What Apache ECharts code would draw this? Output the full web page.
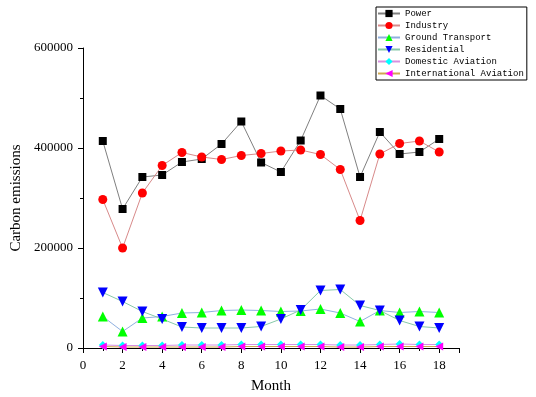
<!DOCTYPE html>
<html>
<head>
<meta charset="utf-8">
<script src="https://cdn.jsdelivr.net/npm/echarts@6/dist/echarts.min.js"></script>
<style>
  html, body { margin: 0; padding: 0; background: #fff; }
  #chart { width: 536px; height: 397px; }
</style>
</head>
<body>
<div id="chart"></div>
<script>
var months = [1, 2, 3, 4, 5, 6, 7, 8, 9, 10, 11, 12, 13, 14, 15, 16, 17, 18];
var seriesNames = ['Power', 'Industry', 'Ground Transport', 'Residential', 'Domestic Aviation', 'International Aviation'];
var power = [414000, 278000, 342000, 346000, 372000, 378000, 408000, 453000, 371000, 352000, 415000, 505000, 478000, 342000, 432000, 388000, 392000, 418000];
var industry = [297000, 200000, 310000, 365000, 391000, 382000, 377000, 385000, 389000, 394000, 396000, 387000, 357000, 255000, 388000, 409000, 414000, 392000];
var groundTransport = [63000, 33000, 60000, 63000, 70000, 71000, 75000, 76000, 75000, 73000, 74000, 78000, 70000, 53000, 75000, 71000, 73000, 71000];
var residential = [111000, 93000, 73000, 58000, 42000, 40000, 40000, 40000, 43000, 58000, 76000, 115000, 117000, 85000, 75000, 55000, 43000, 40000];
var domesticAviation = [6000, 5000, 5000, 5000, 6000, 6000, 6000, 7000, 7000, 7000, 7000, 7000, 6000, 6000, 7000, 8000, 7000, 7000];
var internationalAviation = [3000, 2000, 2000, 2000, 2000, 2000, 2000, 3000, 3000, 3000, 3000, 3000, 2000, 2000, 3000, 3000, 3000, 3000];

function pairs(vals) {
  return months.map(function (m, i) { return [m, vals[i]]; });
}

var serifFont = '"Liberation Serif", "DejaVu Serif", serif';

var dom = document.getElementById('chart');
var myChart = echarts.init(dom, null, { renderer: 'canvas' });

function mkSeries(name, vals, symbol, size, markerColor, lineColor, rotate) {
  return {
    name: name,
    type: 'line',
    data: pairs(vals),
    symbol: symbol,
    symbolSize: size,
    symbolRotate: rotate || 0,
    showAllSymbol: true,
    animation: false,
    itemStyle: { color: markerColor, borderWidth: 0 },
    lineStyle: { color: lineColor, width: 1 }
  };
}

var option = {
  backgroundColor: '#fff',
  animation: false,
  grid: { left: 83, top: 48, right: 77, bottom: 49, containLabel: false, outerBoundsMode: 'none' },
  legend: {
    orient: 'vertical',
    left: 376,
    top: 7,
    padding: [2, 3, 2, 1],
    itemGap: 3,
    itemWidth: 22,
    itemHeight: 9,
    borderColor: '#000',
    borderWidth: 1,
    borderRadius: 0,
    textStyle: { fontFamily: '"Liberation Mono", "DejaVu Sans Mono", monospace', fontSize: 9, lineHeight: 9, color: '#000' },
    data: seriesNames
  },
  xAxis: {
    type: 'value',
    min: 0,
    max: 19,
    interval: 2,
    name: 'Month',
    nameLocation: 'middle',
    nameGap: 31,
    nameTextStyle: { fontFamily: serifFont, fontSize: 15, color: '#000' },
    axisLine: { onZero: false, lineStyle: { color: '#000', width: 1 } },
    axisTick: { show: true, length: 5, lineStyle: { color: '#000' } },
    minorTick: { show: true, splitNumber: 2, length: 3, lineStyle: { color: '#000' } },
    axisLabel: { fontFamily: serifFont, fontSize: 13, color: '#000', margin: 11, showMaxLabel: false },
    splitLine: { show: false }
  },
  yAxis: {
    type: 'value',
    min: 0,
    max: 600000,
    interval: 200000,
    name: 'Carbon emissions',
    nameLocation: 'middle',
    nameGap: 57,
    nameTextStyle: { fontFamily: serifFont, fontSize: 15, color: '#000' },
    axisLine: { show: true, lineStyle: { color: '#000', width: 1 } },
    axisTick: { show: true, length: 5, lineStyle: { color: '#000' } },
    minorTick: { show: true, splitNumber: 2, length: 3, lineStyle: { color: '#000' } },
    axisLabel: {
      fontFamily: serifFont, fontSize: 13, color: '#000', margin: 10,
      formatter: function (v) { return String(v); }
    },
    splitLine: { show: false }
  },
  series: [
    mkSeries('Power', power, 'rect', 8, '#000000', '#808080'),
    mkSeries('Industry', industry, 'circle', 9, '#ff0000', '#d88a8a'),
    mkSeries('Ground Transport', groundTransport, 'triangle', 10, '#00ff00', '#8fb0e0'),
    mkSeries('Residential', residential, 'triangle', 10, '#0000ff', '#86c9a8', 180),
    mkSeries('Domestic Aviation', domesticAviation, 'diamond', 8, '#00ffff', '#d890e0'),
    mkSeries('International Aviation', internationalAviation, 'triangle', 8, '#ff00ff', '#d0a850', 90)
  ]
};

myChart.setOption(option);
</script>
</body>
</html>
